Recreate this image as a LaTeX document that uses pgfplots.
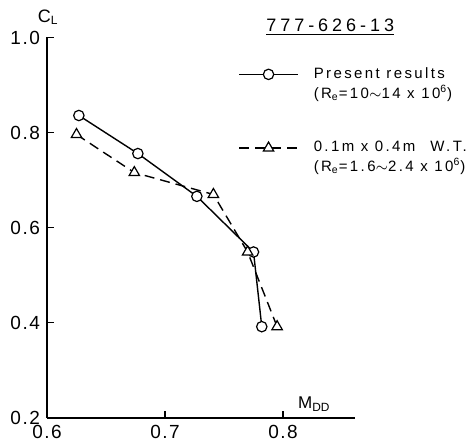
\documentclass[border=0pt]{standalone}
\usepackage{fontspec}
\setmainfont{Liberation Sans}
\newfontfamily\tickfont[LetterSpace=8]{Liberation Sans}
\newfontfamily\legfont[LetterSpace=16]{Liberation Sans}
\newfontfamily\titlefont[LetterSpace=22]{Liberation Sans}
\usepackage{pgfplots}
\pgfplotsset{compat=1.18}
\begin{document}
\begin{tikzpicture}
\useasboundingbox (-23.5pt,-12pt) rectangle (211.5pt,209pt);
\begin{axis}[
  at={(0,0)}, anchor=south west,
  scale only axis, width=154pt, height=190.25pt,
  xmin=0.6, xmax=0.861, ymin=0.2, ymax=1.0,
  axis x line*=bottom, axis y line*=left,
  axis line style={line width=0.7pt, -},
  xtick={0.6,0.7,0.8}, ytick={0.2,0.4,0.6,0.8,1.0},
  tick align=inside, major tick length=3.5pt,
  tick style={line width=0.6pt, black},
  /pgf/number format/fixed, /pgf/number format/fixed zerofill,
  /pgf/number format/precision=1, /pgf/number format/assume math mode=true,
  scaled ticks=false,
  tick label style={font=\tickfont\fontsize{9.5}{10}\selectfont},
  clip=false,
  legend style={draw=none, fill=none, at={(0.62,0.925)}, anchor=north west,
    inner sep=0pt, row sep=19pt, column sep=7pt,
    font=\legfont\fontsize{7.5}{10}\selectfont, nodes={inner sep=0.5pt},
    cells={align=left}},
  legend cell align=left,
  legend image code/.code={\draw[yshift=5pt, mark repeat=2, mark phase=2] plot coordinates {(0pt,0pt) (14.75pt,0pt) (29.5pt,0pt)};},
]
\addplot[black, line width=0.7pt, mark=*, mark size=2.6pt, mark options={fill=white, solid, line width=0.6pt}]
  coordinates {(0.627,0.836) (0.677,0.756) (0.727,0.666) (0.775,0.549) (0.782,0.392)};
\addlegendentry{Present results\\(R\textsubscript{e}=10$\sim$14 x 10\textsuperscript{6})}
\addplot[black, line width=0.7pt, dash pattern=on 5pt off 3pt, mark=triangle*, mark size=3pt, mark options={fill=white, solid, line width=0.6pt}]
  coordinates {(0.625,0.796) (0.674,0.716) (0.741,0.670) (0.770,0.549) (0.795,0.392)};
\addlegendentry{0.1m x 0.4m\quad W.T.\\(R\textsubscript{e}=1.6$\sim$2.4 x 10\textsuperscript{6})}
\node[anchor=south, font=\fontsize{9}{10}\selectfont, inner sep=0pt] at (axis cs:0.601,1.026) {C$_\mathrm{L}$};
\node[anchor=south west, font=\fontsize{8.5}{10}\selectfont, inner sep=0pt] at (axis cs:0.8125,0.2126) {M$_\mathrm{DD}$};
\node[font=\titlefont\fontsize{9}{10}\selectfont, inner sep=0pt] at (axis cs:0.84,1.022) {\underline{777-626-13}};
\end{axis}
\end{tikzpicture}
\end{document}
